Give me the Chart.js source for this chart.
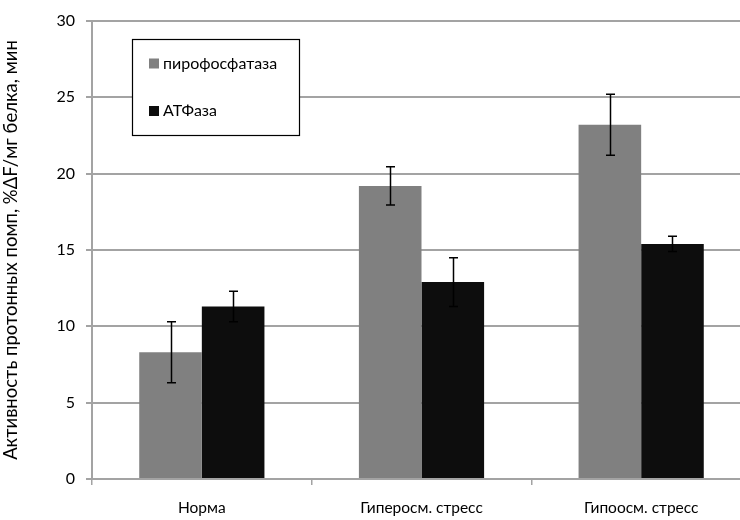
<!DOCTYPE html>
<html>
<head>
<meta charset="utf-8">
<script src="https://cdn.jsdelivr.net/npm/chart.js@4"></script>
<style>
  html, body { margin: 0; padding: 0; background: #fff; overflow: hidden; }
  #wrap { width: 740px; height: 520px; overflow: hidden; }
</style>
</head>
<body>
<div id="wrap"><canvas id="chart" width="751" height="520"></canvas></div>
<script>
const categories = ['Норма', 'Гиперосм. стресс', 'Гипоосм. стресс']
const seriesNames = ['пирофосфатаза', 'АТФаза']
const pyroValues = [8.3, 19.2, 23.2]
const pyroErrors = [2.0, 1.25, 2.0]
const atpValues = [11.3, 12.9, 15.4]
const atpErrors = [1.0, 1.6, 0.5]
const yTicks = [0, 5, 10, 15, 20, 25, 30]

const FONT = 'Lato, "Liberation Sans", sans-serif'
const GRID = '#a3a3a3'

// vertical error bars with caps, drawn over the bars
const errorBars = {
  id: 'errorBars',
  afterDatasetsDraw(chart) {
    const ctx = chart.ctx
    const y = chart.scales.y
    ctx.save()
    ctx.strokeStyle = '#000'
    ctx.lineWidth = 1.5
    chart.data.datasets.forEach((ds, i) => {
      const meta = chart.getDatasetMeta(i)
      meta.data.forEach((bar, j) => {
        const v = ds.data[j]
        const e = ds.errors[j]
        const top = y.getPixelForValue(v + e)
        const bot = y.getPixelForValue(v - e)
        const x = Math.round(bar.x) + 0.5
        ctx.beginPath()
        ctx.moveTo(x, top)
        ctx.lineTo(x, bot)
        ctx.moveTo(x - 4.5, top)
        ctx.lineTo(x + 4.5, top)
        ctx.moveTo(x - 4.5, bot)
        ctx.lineTo(x + 4.5, bot)
        ctx.stroke()
      })
    })
    ctx.restore()
  },
}

// framed legend sitting inside the plot area
const boxLegend = {
  id: 'boxLegend',
  afterDraw(chart) {
    const ctx = chart.ctx
    const left = 132, top = 39.5, w = 167, h = 96
    ctx.save()
    ctx.fillStyle = '#fff'
    ctx.fillRect(left, top, w, h)
    ctx.strokeStyle = '#000'
    ctx.lineWidth = 1.2
    ctx.strokeRect(left + 0.5, top, w, h)
    ctx.font = '16px ' + FONT
    ctx.textBaseline = 'middle'
    chart.data.datasets.forEach((ds, i) => {
      const cy = 63.5 + i * 47.5
      ctx.fillStyle = ds.backgroundColor
      ctx.fillRect(149, cy - 5, 10, 10)
      ctx.fillStyle = '#000'
      ctx.fillText(ds.label, 163, cy)
    })
    ctx.restore()
  },
}

new Chart(document.getElementById('chart').getContext('2d'), {
  type: 'bar',
  data: {
    labels: categories,
    datasets: [
      {
        label: seriesNames[0],
        data: pyroValues,
        errors: pyroErrors,
        backgroundColor: '#808080',
        borderWidth: 0,
      },
      {
        label: seriesNames[1],
        data: atpValues,
        errors: atpErrors,
        backgroundColor: '#0d0d0d',
        borderWidth: 0,
      },
    ],
  },
  plugins: [errorBars, boxLegend],
  options: {
    responsive: false,
    animation: false,
    layout: { padding: { top: 21, right: 0, left: 0, bottom: 0 } },
    datasets: {
      bar: { categoryPercentage: 0.57, barPercentage: 1.0 },
    },
    plugins: {
      legend: { display: false },
      tooltip: { enabled: false },
    },
    scales: {
      x: {
        grid: {
          offset: true,
          drawOnChartArea: false,
          color: GRID,
          lineWidth: 1.5,
          tickLength: 6,
        },
        border: { color: GRID, width: 2 },
        ticks: {
          color: '#000',
          font: { family: FONT, size: 15.5 },
          padding: 14,
          maxRotation: 0,
        },
        afterFit(scale) {
          scale.height = 41
        },
      },
      y: {
        min: 0,
        max: 30,
        afterBuildTicks(scale) {
          scale.ticks = yTicks.map(v => ({ value: v }))
        },
        grid: {
          color: GRID,
          lineWidth: 2,
          tickLength: 6,
        },
        border: { color: GRID, width: 2 },
        ticks: {
          color: '#000',
          font: { family: FONT, size: 16 },
          padding: 11,
        },
        title: {
          display: true,
          text: 'Активность протонных помп, %ΔF/мг белка, мин',
          color: '#000',
          font: { family: FONT, size: 18.5 },
          padding: { top: 0, bottom: 0 },
        },
        afterFit(scale) {
          scale.width = 92
        },
      },
    },
  },
})
</script>
</body>
</html>
